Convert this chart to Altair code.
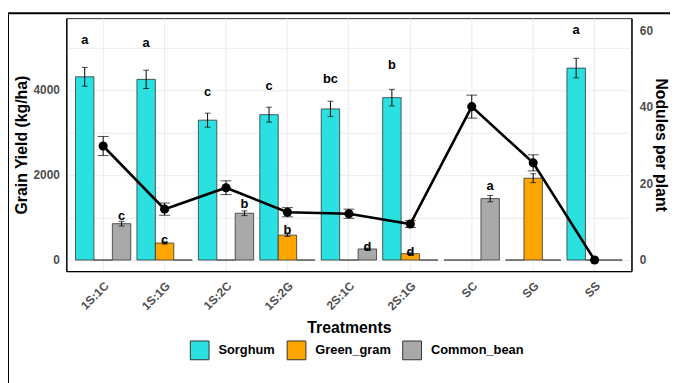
import altair as alt
import pandas as pd

treatments = ["1S:1C", "1S:1G", "1S:2C", "1S:2G", "2S:1C", "2S:1G", "SC", "SG", "SS"]
species = ["Sorghum", "Green_gram", "Common_bean"]
colors = ["#2ae0e0", "#ffa500", "#a9a9a9"]

sorghum = [4310, 4250, 3290, 3420, 3555, 3820, 0, 0, 4515]
sorghum_se = [220, 215, 165, 175, 180, 195, 0, 0, 230]
sorghum_letters = ["a", "a", "c", "c", "bc", "b", "", "", "a"]

green = [0, 400, 0, 585, 0, 150, 0, 1925, 0]
green_se = [0, 25, 0, 30, 0, 20, 0, 105, 0]
green_letters = ["", "c", "", "b", "", "d", "", "a", ""]

common = [855, 0, 1100, 0, 260, 0, 1445, 0, 0]
common_se = [55, 0, 55, 0, 20, 0, 75, 0, 0]
common_letters = ["c", "", "b", "", "d", "", "a", "", ""]

nodules = [29.8, 13.3, 18.9, 12.5, 12.1, 9.4, 40.1, 25.4, 0]
nodules_se = [2.5, 1.6, 1.8, 1.2, 1.2, 0.9, 3.0, 2.1, 0]

rows = []
for sp, vals, ses, lets in [
    ("Sorghum", sorghum, sorghum_se, sorghum_letters),
    ("Green_gram", green, green_se, green_letters),
    ("Common_bean", common, common_se, common_letters),
]:
    for t, v, s, l in zip(treatments, vals, ses, lets):
        rows.append({"Treatment": t, "Species": sp, "Yield": v, "se": s,
                     "lo": v - s, "hi": v + s, "letter": l, "ly": v * 1.2})
df = pd.DataFrame(rows)

nod = pd.DataFrame({"Treatment": treatments, "Nodules": nodules, "se": nodules_se})
nod["lo"] = nod["Nodules"] - nod["se"]
nod["hi"] = nod["Nodules"] + nod["se"]

LO, HI = -260, 5690
FACT = 90.0

xscale = alt.Scale(domain=treatments, paddingInner=0.1, paddingOuter=0.15)
xaxis = alt.Axis(labelAngle=-45, labelAlign="right", labelBaseline="top", labelPadding=9,
                 ticks=False, grid=True, bandPosition=0.5, gridColor="#ebebeb",
                 labelFontSize=12, labelFontWeight="bold", labelColor="#4d4d4d",
                 titleFontSize=16, titleFontWeight="bold", titleColor="black",
                 titlePadding=8, domainColor="black", domainWidth=1.3)
yscale = alt.Scale(domain=[LO, HI], nice=False, zero=False)
yaxis = alt.Axis(values=[0, 1000, 2000, 3000, 4000, 5000],
                 labelExpr="datum.value % 2000 == 0 ? datum.label : ''",
                 format="d", ticks=False, grid=True, gridColor="#ebebeb",
                 labelFontSize=12, labelFontWeight="bold", labelColor="#4d4d4d", labelPadding=7,
                 titleFontSize=16, titleFontWeight="bold", titleColor="black", titlePadding=4,
                 domainColor="black", domainWidth=1.3)
rscale = alt.Scale(domain=[LO / FACT, HI / FACT], nice=False, zero=False)
raxis = alt.Axis(orient="right", values=[0, 20, 40, 60], ticks=False, grid=False,
                 labelFontSize=12, labelFontWeight="bold", labelColor="#4d4d4d", labelPadding=8,
                 titleFontSize=16, titleFontWeight="bold", titleColor="black", titlePadding=0,
                 domainColor="black", domainWidth=1.3)

YT = "Grain Yield (kg/ha)"
RT = "Nodules per plant"

def X():
    return alt.X("Treatment:N", scale=xscale, axis=xaxis, title="Treatments")

def XO():
    return alt.XOffset("Species:N", scale=alt.Scale(domain=species, paddingInner=0, paddingOuter=0))

base = alt.Chart(df)
bars = base.mark_bar(stroke="#333333", strokeWidth=0.8).encode(
    x=X(), xOffset=XO(),
    y=alt.Y("Yield:Q", scale=yscale, axis=yaxis, title=YT),
    y2=alt.datum(0),
    color=alt.Color("Species:N", scale=alt.Scale(domain=species, range=colors),
                    legend=alt.Legend(orient="none", direction="horizontal", legendX=125, legendY=326,
                                      title=None, symbolType="square", symbolSize=361,
                                      symbolStrokeColor="#333333", symbolStrokeWidth=1,
                                      labelFontSize=13, labelFontWeight="bold", labelColor="black",
                                      labelOffset=9, columnPadding=9, padding=0)),
)
err = base.transform_filter("datum.se > 0").mark_rule(color="black", strokeWidth=1).encode(
    x=X(), xOffset=XO(),
    y=alt.Y("lo:Q", scale=yscale, axis=yaxis, title=YT), y2="hi:Q")
whisk_lo = base.transform_filter("datum.se > 0").mark_tick(color="black", thickness=1, size=6).encode(
    x=X(), xOffset=XO(), y=alt.Y("lo:Q", scale=yscale, axis=yaxis, title=YT))
whisk_hi = base.transform_filter("datum.se > 0").mark_tick(color="black", thickness=1, size=6).encode(
    x=X(), xOffset=XO(), y=alt.Y("hi:Q", scale=yscale, axis=yaxis, title=YT))
letters = base.transform_filter("datum.letter != ''").mark_text(
    fontSize=13, fontWeight="bold", color="black", baseline="middle").encode(
    x=X(), xOffset=XO(), y=alt.Y("ly:Q", scale=yscale, axis=yaxis, title=YT), text="letter:N")

left = alt.layer(bars, err, whisk_lo, whisk_hi, letters)

nbase = alt.Chart(nod)
nline = nbase.mark_line(color="black", strokeWidth=2.6).encode(
    x=X(), y=alt.Y("Nodules:Q", scale=rscale, axis=raxis, title=RT))
nerr = nbase.transform_filter("datum.se > 0").mark_rule(color="black", strokeWidth=1).encode(
    x=X(), y=alt.Y("lo:Q", scale=rscale, axis=raxis, title=RT), y2="hi:Q")
nwl = nbase.transform_filter("datum.se > 0").mark_tick(color="black", thickness=1, size=11).encode(
    x=X(), y=alt.Y("lo:Q", scale=rscale, axis=raxis, title=RT))
nwh = nbase.transform_filter("datum.se > 0").mark_tick(color="black", thickness=1, size=11).encode(
    x=X(), y=alt.Y("hi:Q", scale=rscale, axis=raxis, title=RT))
npts = nbase.mark_point(filled=True, color="black", size=85, opacity=1).encode(
    x=X(), y=alt.Y("Nodules:Q", scale=rscale, axis=raxis, title=RT))

right = alt.layer(nline, nerr, nwl, nwh, npts)

border = alt.Chart(alt.Data(values=[{"a": 1}])).mark_rect(
    fillOpacity=0, stroke="black", strokeWidth=2).encode(
    x=alt.value(-59), x2=alt.value(700), y=alt.value(-5), y2=alt.value(420))

chart = alt.layer(left, right, border).resolve_scale(y="independent").properties(
    width=572, height=256,
    autosize=alt.AutoSizeParams(type="none"),
    padding={"left": 59, "top": 8, "right": 39, "bottom": 111},
).configure(font="Liberation Sans").configure_view(stroke="#333333", strokeWidth=1)

chart.save("out.html", embed_options={"renderer": "svg", "actions": False})
